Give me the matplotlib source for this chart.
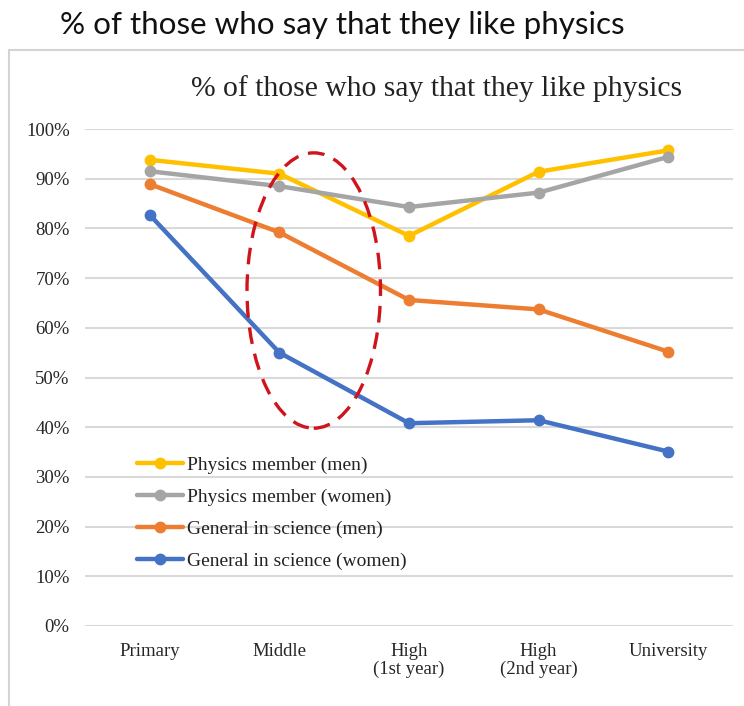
import matplotlib
matplotlib.use("Agg")
import matplotlib.pyplot as plt
from matplotlib.patches import Ellipse, Rectangle
from matplotlib.ticker import FuncFormatter

# Survey results: share who say they like physics, by school stage
stages = ["Primary", "Middle", "High\n(1st year)", "High\n(2nd year)", "University"]
physics_men = [0.938, 0.910, 0.785, 0.914, 0.957]
physics_women = [0.915, 0.885, 0.843, 0.872, 0.944]
science_men = [0.889, 0.792, 0.656, 0.637, 0.552]
science_women = [0.827, 0.550, 0.408, 0.414, 0.351]

series = [
    ("Physics member (men)", physics_men, "#FFC000"),
    ("Physics member (women)", physics_women, "#A5A5A5"),
    ("General in science (men)", science_men, "#ED7D31"),
    ("General in science (women)", science_women, "#4472C4"),
]

W, H = 744, 706
fig = plt.figure(figsize=(W / 100, H / 100), dpi=100)
fig.patch.set_facecolor("white")

serif = ["Liberation Serif", "DejaVu Serif"]

# Slide heading above the chart frame
fig.text(60 / W, 1 - 25 / H, "% of those who say that they like physics",
         family=["Lato", "DejaVu Sans"], fontsize=22.6, color="#111111",
         ha="left", va="center")

# Chart frame
fig.patches.append(Rectangle((9 / W, -0.05), 1.2, 1 - 50 / H + 0.05,
                             transform=fig.transFigure, fill=False,
                             edgecolor="#d4d4d4", linewidth=1.5, zorder=0))

# Chart title inside the frame
fig.text(437 / W, 1 - 89 / H, "% of those who say that they like physics",
         family=serif, fontsize=21.3, color="#222222", ha="center", va="center")

ax = fig.add_axes([85 / W, (H - 626) / H, (733 - 85) / W, (626 - 129) / H])
x = list(range(len(stages)))
for label, vals, color in series:
    ax.plot(x, vals, color=color, linewidth=3.2, marker="o", markersize=7.5,
            label=label, zorder=3, solid_capstyle="round")

ax.set_xlim(-0.5, len(stages) - 0.5)
ax.set_ylim(0, 1.0)
ax.set_yticks([i / 10 for i in range(11)])
ax.yaxis.set_major_formatter(FuncFormatter(lambda v, _: f"{v * 100:.0f}%"))
ax.set_xticks(x)
ax.set_xticklabels(stages, family=serif, fontsize=13.5, color="#262626",
                   linespacing=1.1)
for t in ax.get_yticklabels():
    t.set_family(serif)
    t.set_fontsize(13.5)
    t.set_color("#262626")
ax.tick_params(axis="both", length=0)
ax.tick_params(axis="y", pad=11)
ax.tick_params(axis="x", pad=12)
ax.grid(axis="y", color="#d9d9d9", linewidth=1.5)
ax.set_axisbelow(True)
for s in ax.spines.values():
    s.set_visible(False)

# Dashed highlight around the drop at the middle-school stage
ax.add_patch(Ellipse((1.265, 0.675), 1.03, 0.554, fill=False,
                     edgecolor="#D0141C", linewidth=2.4,
                     linestyle=(0, (5, 3)), zorder=4))

leg = ax.legend(loc="upper left", bbox_to_anchor=(137 / W, 1 - 456 / H),
                bbox_transform=fig.transFigure, frameon=False,
                prop={"family": serif, "size": 14}, handlelength=2.35,
                handletextpad=0.2, labelspacing=0.74, borderpad=0,
                borderaxespad=0)
for t in leg.get_texts():
    t.set_color("#222222")

fig.savefig("out.png", dpi=100, facecolor="white")
